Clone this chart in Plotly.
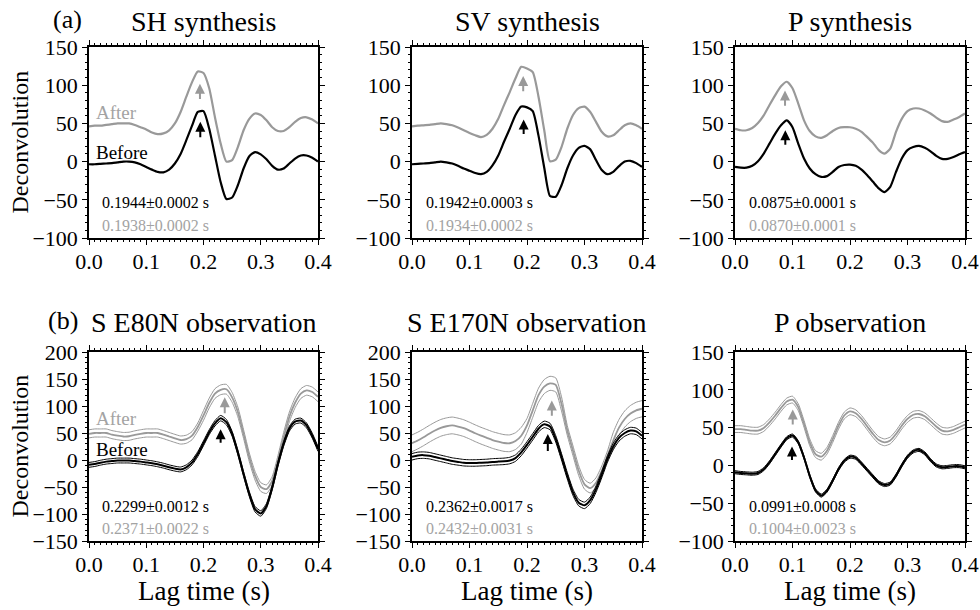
import plotly.graph_objects as go

# ---------------------------------------------------------------------------
# Data: deconvolved waveforms sampled every 0.01 s of lag time
# ---------------------------------------------------------------------------
LAG = [0.00, 0.01, 0.02, 0.03, 0.04, 0.05, 0.06, 0.07, 0.08, 0.09,
       0.10, 0.11, 0.12, 0.13, 0.14, 0.15, 0.16, 0.17, 0.18, 0.19,
       0.20, 0.21, 0.22, 0.23, 0.24, 0.25, 0.26, 0.27, 0.28, 0.29,
       0.30, 0.31, 0.32, 0.33, 0.34, 0.35, 0.36, 0.37, 0.38, 0.39, 0.40]

# (a) synthetics: before / after correction
SH_BEFORE = [-3.5, -3.5, -3, -2.5, -2, -1, 0, 0, -1, -3.5,
             -7, -10.5, -13.5, -14, -10.5, -2.5, 10, 28, 47, 65,
             66, 43, 8, -27, -49, -47, -31, -9, 7, 12.5,
             9.5, 3, -5.5, -10.5, -9, -2.5, 4, 8, 8, 5, 0]
SH_AFTER = [46, 47, 47, 48, 49, 50, 50, 50, 48, 45,
            42, 38, 36, 37, 41, 50, 65, 85, 104, 118,
            116, 96, 58, 23.5, 0, 2, 19, 41, 56, 63,
            61, 54, 45, 40, 40, 45, 52, 57, 58, 55, 50]

SV_BEFORE = [-3.5, -3, -2.5, -2, -1, 0, -1, -2.5, -5.5, -9,
             -12, -15, -16.5, -13.5, -5, 8, 26, 43, 61, 72,
             71, 66, 34, -8, -45, -46, -31, -9, 8, 18,
             20.5, 16, 2, -11, -16.5, -13.5, -6, 0, 1, -2, -7]
SV_AFTER = [46, 47, 47.5, 48, 49, 50, 49, 47.5, 44.5, 41,
            37.5, 34.5, 32, 35, 43, 56, 74, 91, 109, 124,
            122, 117, 85, 41, 0.5, 2.5, 19, 43, 61, 70,
            72, 65, 52, 39, 33, 34.5, 41, 47.5, 50, 47.5, 43]

PSYN_BEFORE = [-7, -8, -8, -5.5, 0.5, 10.5, 23.5, 36.5, 47.5, 54,
               45, 23.5, 4, -9, -16.5, -20, -19, -13.5, -7, -4.5,
               -4, -5.5, -10.5, -18, -26.5, -35, -40, -33, -13.5, 4,
               15, 19, 20.5, 18, 13.5, 7.5, 3.5, 3.5, 6, 9.5, 12.5]
PSYN_AFTER = [43, 41, 41, 44, 50.5, 60.5, 74, 87, 98.5, 104.5,
              96, 76, 54, 40, 33, 31, 34.5, 40, 44, 45,
              45, 43, 39, 32, 24.5, 15, 10.5, 17, 39, 56,
              66, 69.5, 69.5, 67, 63, 57.5, 53, 52, 55, 58.5, 63]

# (b) observations: mean trace with upper / lower bounding traces
E80N_BEFORE = [-9, -7.5, -5, -3, -2, -1, -1, -1, -2, -3,
               -4.5, -6, -8, -10.5, -13.5, -16, -17.5, -13.5, -4.5, 11,
               31, 51.5, 68, 77.5, 70, 48.5, 14, -26, -63, -91,
               -99, -85, -51, -7.5, 30, 58, 71, 73, 64, 45, 20.5]
E80N_BEFORE_HI = [-4.5, -3, -0.5, 1.5, 2.5, 3.5, 3.5, 3.5, 2.5, 1.5,
                  0, -1.5, -3.5, -6, -9, -11.5, -13, -9, 0, 15.5,
                  35.5, 56, 73, 82.5, 75, 53, 18.5, -21.5, -58.5, -86,
                  -94, -80.5, -46.5, -3, 34.5, 62.5, 75.5, 77.5, 68.5, 49.5, 25]
E80N_BEFORE_LO = [-13.5, -12, -9.5, -7.5, -6.5, -5.5, -5.5, -5.5, -6.5, -7.5,
                  -9, -10.5, -12.5, -15, -18, -20.5, -22, -18, -9, 6.5,
                  26.5, 47, 63, 72.5, 65, 44, 9.5, -30.5, -67.5, -96,
                  -104, -89.5, -55.5, -12, 25.5, 53.5, 66.5, 68.5, 59.5, 40.5, 16]
E80N_AFTER = [48.5, 50, 50, 50, 47, 45, 43.5, 44, 46.5, 48.5,
              50, 50, 50, 47, 43.5, 40, 37, 38.5, 45, 61,
              82.5, 105.5, 123, 130, 131, 116, 89, 48, 5, -29,
              -50, -54, -38.5, 0, 42, 80, 106, 123, 129, 126, 117]
E80N_AFTER_HI = [56, 57.5, 57.5, 57.5, 54.5, 52.5, 51, 51.5, 54, 56,
                 57.5, 57.5, 57.5, 54.5, 51, 47.5, 44.5, 46, 52.5, 68.5,
                 91.5, 114.5, 132, 139, 140, 125, 98, 56, 13, -21,
                 -42, -46, -30.5, 8, 51, 89, 115, 132, 138, 135, 126]
E80N_AFTER_LO = [41, 42.5, 42.5, 42.5, 39.5, 37.5, 36, 36.5, 39, 41,
                 42.5, 42.5, 42.5, 39.5, 36, 32.5, 29.5, 31, 37.5, 53.5,
                 73.5, 96.5, 114, 121, 122, 107, 80, 40, -3, -37,
                 -58, -62, -46.5, -8, 33, 71, 97, 114, 120, 117, 108]

E170N_BEFORE = [6, 8.5, 9, 8, 5.5, 3, 0.5, -2, -3.5, -5,
                -5.5, -5.5, -5, -4.5, -3.5, -3, -2.5, -1, 3.5, 14,
                28, 43, 58, 66, 62, 39, 6, -29, -60, -79,
                -84, -74.5, -54, -27, 2, 25, 41, 50, 54.5, 53, 45]
E170N_BEFORE_HI = [12, 14.5, 15, 14, 11.5, 9, 6.5, 4, 2.5, 1,
                   0.5, 0.5, 1, 1.5, 2.5, 3, 3.5, 5, 9.5, 20,
                   34, 49, 64, 72, 68, 45, 12, -23, -54, -73,
                   -78, -68.5, -48, -21, 8, 31, 47, 56, 60.5, 59, 51]
E170N_BEFORE_LO = [0, 2.5, 3, 2, -0.5, -3, -5.5, -8, -9.5, -11,
                   -11.5, -11.5, -11, -10.5, -9.5, -9, -8.5, -7, -2.5, 8,
                   22, 37, 52, 60, 56, 33, 0, -35, -66, -85,
                   -90, -80.5, -60, -33, -4, 19, 35, 44, 48.5, 47, 39]
E170N_AFTER = [31, 36, 42, 48.5, 54.5, 59.5, 62.5, 64, 62, 59,
               54.5, 49.5, 45, 41, 37, 34, 31.5, 31, 35, 45,
               64, 92, 120, 136, 142, 139, 104, 55, 17, -20,
               -45, -52, -42, -20, 8, 36, 60, 76, 86, 92, 95]
E170N_AFTER_HI = [46.5, 51.5, 57.5, 64, 70, 75, 78, 79.5, 77.5, 74.5,
                  70, 65, 60.5, 56.5, 52.5, 49.5, 47, 46.5, 50.5, 60.5,
                  77, 105, 133, 149, 155, 152, 117, 64, 26, -11,
                  -36, -43, -33, -11, 17, 51, 75, 91, 101, 107, 110]
E170N_AFTER_LO = [15.5, 20.5, 26.5, 33, 39, 44, 47, 48.5, 46.5, 43.5,
                  39, 34, 29.5, 25.5, 21.5, 18.5, 16, 15.5, 19.5, 29.5,
                  51, 79, 107, 123, 129, 126, 91, 46, 8, -29,
                  -54, -61, -51, -29, -1, 21, 45, 61, 71, 77, 80]

POBS_BEFORE = [-9, -10, -10.5, -11, -10, -5, 4, 15, 26, 36,
               39.5, 30.5, 10.5, -14, -33, -40, -33.5, -20, -5, 6,
               11.5, 10, 2.5, -6, -14.5, -22.5, -26, -24, -13.5, 0,
               11.5, 18.5, 20.5, 16, 7, 0, -2.5, -2, -1, -1, -2.5]
POBS_BEFORE_HI = [-7, -8, -8.5, -9, -8, -3, 6, 17, 28, 38,
                  41.5, 32.5, 12.5, -12, -31, -38, -31.5, -18, -3, 8,
                  13.5, 12, 4.5, -4, -12.5, -20.5, -24, -22, -11.5, 2,
                  13.5, 20.5, 22.5, 18, 9, 2, -0.5, 0, 1, 1, -0.5]
POBS_BEFORE_LO = [-11, -12, -12.5, -13, -12, -7, 2, 13, 24, 34,
                  37.5, 28.5, 8.5, -16, -35, -42, -35.5, -22, -7, 4,
                  9.5, 8, 0.5, -8, -16.5, -24.5, -28, -26, -15.5, -2,
                  9.5, 16.5, 18.5, 14, 5, -2, -4.5, -4, -3, -3, -4.5]
POBS_AFTER = [48, 48, 47, 46, 46, 49.5, 57, 66, 76, 84.5,
              87, 77, 55, 30.5, 15, 11.5, 19.5, 35, 52.5, 66,
              71.5, 69, 61.5, 51.5, 41.5, 33.5, 30.5, 33, 41.5, 52.5,
              61.5, 67, 68, 65, 58.5, 51.5, 46, 45, 47, 50.5, 54]
POBS_AFTER_HI = [52.5, 52.5, 51.5, 50.5, 50.5, 54, 61.5, 70.5, 80.5, 89,
                 91.5, 81.5, 59.5, 35, 19.5, 16, 24, 39.5, 57, 70.5,
                 76, 73.5, 66, 56, 46, 38, 35, 37.5, 46, 57,
                 66, 71.5, 72.5, 69.5, 63, 56, 50.5, 49.5, 51.5, 55, 58.5]
POBS_AFTER_LO = [43.5, 43.5, 42.5, 41.5, 41.5, 45, 52.5, 61.5, 71.5, 80,
                 82.5, 72.5, 50.5, 26, 10.5, 7, 15, 30.5, 48, 61.5,
                 67, 64.5, 57, 47, 37, 29, 26, 28.5, 37, 48,
                 57, 62.5, 63.5, 60.5, 54, 47, 41.5, 40.5, 42.5, 46, 49.5]

# Picked peak lag times (s) and their uncertainties: before / after
PICKS_BEFORE = [(0.1944, 0.0002), (0.1942, 0.0003), (0.0875, 0.0001),
                (0.2299, 0.0012), (0.2362, 0.0017), (0.0991, 0.0008)]
PICKS_AFTER = [(0.1938, 0.0002), (0.1934, 0.0002), (0.0870, 0.0001),
               (0.2371, 0.0022), (0.2432, 0.0031), (0.1004, 0.0023)]

PANEL_TITLES = ["SH synthesis", "SV synthesis", "P synthesis",
                "S E80N observation", "S E170N observation", "P observation"]
ROW_LABELS = ["(a)", "(b)"]
Y_RANGES = [[-100, 150], [-100, 150], [-100, 150],
            [-150, 200], [-150, 200], [-100, 150]]

# ---------------------------------------------------------------------------
# Styling / layout helpers
# ---------------------------------------------------------------------------
FONT = "Liberation Serif, Times New Roman, serif"
BLACK = "#000000"
GRAY = "#999999"
GRAY_TEXT = "#a3a3a3"
W, H = 980, 610

COL_PX = [(89, 318), (412, 642), (735, 965)]
ROW_PX = [(47, 238), (352, 541)]

# arrow extents (tail, head) in data units for before / after arrows
ARROWS_BEFORE = [(30, 52), (34, 55), (20, 41), (29, 57), (14, 48), (5, 25)]
ARROWS_AFTER = [(80, 102), (90, 112), (71, 93), (84, 116), (79, 110), (52, 74)]
# vertical placement of pick text (before, after) in data units
PICK_TEXT_Y = [(-54, -83), (-54, -83), (-54, -83),
               (-86, -127), (-86, -127), (-54.5, -84)]

synthetic = [(SH_BEFORE, SH_AFTER), (SV_BEFORE, SV_AFTER), (PSYN_BEFORE, PSYN_AFTER)]
observed = [
    (E80N_BEFORE, E80N_BEFORE_HI, E80N_BEFORE_LO, E80N_AFTER, E80N_AFTER_HI, E80N_AFTER_LO),
    (E170N_BEFORE, E170N_BEFORE_HI, E170N_BEFORE_LO, E170N_AFTER, E170N_AFTER_HI, E170N_AFTER_LO),
    (POBS_BEFORE, POBS_BEFORE_HI, POBS_BEFORE_LO, POBS_AFTER, POBS_AFTER_HI, POBS_AFTER_LO),
]

fig = go.Figure()
annotations = []
layout_axes = {}


def line(xs, ys, color, width, ax_id):
    return go.Scatter(x=xs, y=ys, mode="lines",
                      line=dict(color=color, width=width, shape="spline", smoothing=0.6),
                      xaxis="x" + ax_id, yaxis="y" + ax_id, showlegend=False, hoverinfo="skip")


for i in range(6):
    row, col = divmod(i, 3)
    ax_id = "" if i == 0 else str(i + 1)
    xname = "xaxis" + ax_id
    yname = "yaxis" + ax_id
    xref = "x" + ax_id
    yref = "y" + ax_id

    x0, x1 = COL_PX[col]
    y0, y1 = ROW_PX[row]
    xdom = [x0 / W, x1 / W]
    ydom = [1 - y1 / H, 1 - y0 / H]

    common = dict(
        ticks="outside", ticklen=5, tickwidth=1, tickcolor=BLACK,
        showline=True, linecolor=BLACK, linewidth=1.5, mirror="allticks",
        showgrid=False, zeroline=False, fixedrange=True, automargin=False,
        tickfont=dict(family=FONT, size=22, color=BLACK),
    )
    layout_axes[xname] = dict(
        domain=xdom, anchor=yref, range=[0, 0.4], dtick=0.1, tick0=0, tickformat=".1f",
        minor=dict(dtick=0.01, ticks="outside", ticklen=2, tickwidth=1, tickcolor=BLACK),
        ticklabelstandoff=-2, **common,
    )
    layout_axes[yname] = dict(
        domain=ydom, anchor=xref, range=Y_RANGES[i], dtick=50, tick0=0,
        minor=dict(dtick=10, ticks="outside", ticklen=2, tickwidth=1, tickcolor=BLACK),
        **common,
    )

    if row == 0:
        before, after = synthetic[col]
        fig.add_trace(line(LAG, after, GRAY, 2.2, ax_id))
        fig.add_trace(line(LAG, before, BLACK, 2.2, ax_id))
    else:
        b, b_hi, b_lo, a, a_hi, a_lo = observed[col]
        for ys in (a_hi, a_lo):
            fig.add_trace(line(LAG, ys, GRAY, 1.0, ax_id))
        fig.add_trace(line(LAG, a, GRAY, 1.8, ax_id))
        for ys in (b_hi, b_lo):
            fig.add_trace(line(LAG, ys, BLACK, 1.0, ax_id))
        fig.add_trace(line(LAG, b, BLACK, 2.0, ax_id))

    # arrows marking picked peaks
    for pick, (tail, head), color in ((PICKS_AFTER[i], ARROWS_AFTER[i], GRAY),
                                      (PICKS_BEFORE[i], ARROWS_BEFORE[i], BLACK)):
        annotations.append(dict(
            x=pick[0], y=head, ax=pick[0], ay=tail, xref=xref, yref=yref,
            axref=xref, ayref=yref, text="", showarrow=True,
            arrowhead=2, arrowsize=1.0, arrowwidth=2, arrowcolor=color,
            standoff=0, startstandoff=0,
        ))

    # pick values with uncertainty
    ty_b, ty_a = PICK_TEXT_Y[i]
    for (val, err), ty, color in ((PICKS_BEFORE[i], ty_b, BLACK), (PICKS_AFTER[i], ty_a, GRAY_TEXT)):
        annotations.append(dict(
            x=0.02, y=ty, xref=xref, yref=yref, text=f"{val:.4f}±{err:.4f} s",
            showarrow=False, xanchor="left", yanchor="middle",
            font=dict(family=FONT, size=16, color=color),
        ))

    # panel title
    title_y = 1 - (21 if row == 0 else 322) / H
    annotations.append(dict(
        x=(xdom[0] + xdom[1]) / 2, y=title_y, xref="paper", yref="paper",
        text=PANEL_TITLES[i], showarrow=False, xanchor="center", yanchor="middle",
        font=dict(family=FONT, size=28, color=BLACK),
    ))

    # axis titles
    if col == 0:
        annotations.append(dict(
            x=19 / W, y=(ydom[0] + ydom[1]) / 2, xref="paper", yref="paper",
            text="Deconvolution", textangle=-90, showarrow=False,
            xanchor="center", yanchor="middle",
            font=dict(family=FONT, size=24, color=BLACK),
        ))
    if row == 1:
        annotations.append(dict(
            x=(xdom[0] + xdom[1]) / 2, y=1 - 591 / H, xref="paper", yref="paper",
            text="Lag time (s)", showarrow=False, xanchor="center", yanchor="middle",
            font=dict(family=FONT, size=27, color=BLACK),
        ))

# row labels
for r, lab in enumerate(ROW_LABELS):
    annotations.append(dict(
        x=(67 if r == 0 else 63) / W, y=1 - (19 if r == 0 else 320) / H,
        xref="paper", yref="paper", text=lab, showarrow=False,
        xanchor="center", yanchor="middle",
        font=dict(family=FONT, size=26, color=BLACK),
    ))

# Before / After labels in the first panel of each row
for ax_id, y_after, y_before in (("", 64, 12.5), ("4", 77, 20)):
    annotations.append(dict(x=0.008, y=y_after, xref="x" + ax_id, yref="y" + ax_id, text="After",
                            showarrow=False, xanchor="left", yanchor="middle",
                            font=dict(family=FONT, size=19, color=GRAY_TEXT)))
    annotations.append(dict(x=0.008, y=y_before, xref="x" + ax_id, yref="y" + ax_id, text="Before",
                            showarrow=False, xanchor="left", yanchor="middle",
                            font=dict(family=FONT, size=19, color=BLACK)))

fig.update_layout(
    template="none",
    width=W, height=H, margin=dict(l=0, r=0, t=0, b=0, autoexpand=False),
    paper_bgcolor="white", plot_bgcolor="white",
    font=dict(family=FONT, color=BLACK),
    annotations=annotations, showlegend=False,
    **layout_axes,
)

fig.write_html("out.html", config={"displayModeBar": False})
